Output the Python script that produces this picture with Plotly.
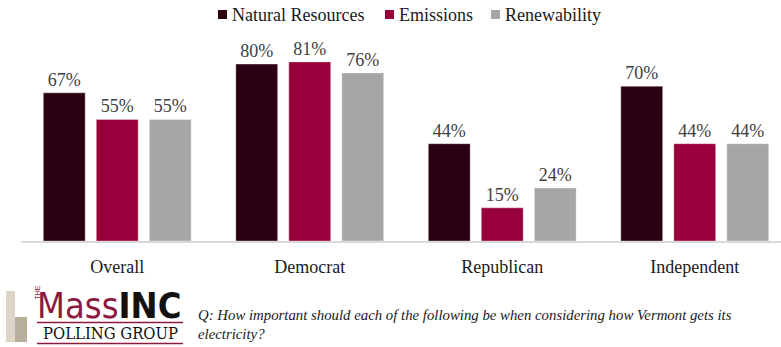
import plotly.graph_objects as go

categories = ["Overall", "Democrat", "Republican", "Independent"]
series_names = ["Natural Resources", "Emissions", "Renewability"]
natural_resources = [67, 80, 44, 70]
emissions = [55, 81, 15, 44]
renewability = [55, 76, 24, 44]
colors = ["#2c0012", "#99003b", "#a6a6a6"]

W, H = 781, 347
SERIF = "Liberation Serif"
xpos = list(range(len(categories)))
values = [natural_resources, emissions, renewability]

fig = go.Figure()
for name, vals, col in zip(series_names, values, colors):
    fig.add_trace(go.Bar(
        x=xpos, y=vals, name=name,
        marker=dict(color=col, line=dict(color="rgba(255,255,255,0.35)", width=1)),
        text=[f"{v}%" for v in vals], textposition="outside",
        textfont=dict(family=SERIF, size=18, color="#404040"),
        cliponaxis=False,
    ))

left_px, right_px, top_px, base_px = 21, 781, 42, 241
cat_w = 192.5
x_lo = -0.5
x_hi = -0.5 + (right_px - left_px) / cat_w

fig.update_layout(
    width=W, height=H,
    margin=dict(l=left_px, r=W - right_px, t=top_px, b=H - base_px, autoexpand=False),
    paper_bgcolor="white", plot_bgcolor="white",
    barmode="group", bargap=0.174, bargroupgap=0.21,
    showlegend=False,
    xaxis=dict(range=[x_lo, x_hi], tickvals=xpos, ticktext=categories,
               showgrid=False, zeroline=False, showline=True,
               linecolor="#d9d9d9", linewidth=2, ticks="", ticklen=0,
               ticklabelstandoff=8,
               tickfont=dict(family=SERIF, size=18, color="#1a1a1a")),
    yaxis=dict(range=[0, 90], visible=False, showgrid=False, zeroline=False),
)

def px_x(x):
    return (x - left_px) / (right_px - left_px)

def px_y(y):
    return (base_px - y) / (base_px - top_px)

# Legend (manual)
legend_sq_x = [218, 385, 491]
for name, col, sx in zip(series_names, colors, legend_sq_x):
    fig.add_shape(type="rect", xref="paper", yref="paper",
                  x0=px_x(sx), x1=px_x(sx + 9), y0=px_y(19), y1=px_y(10),
                  fillcolor=col, line=dict(width=0))
    fig.add_annotation(xref="paper", yref="paper", x=px_x(sx + 12), y=px_y(14.5),
                       xanchor="left", yanchor="middle", text=name, showarrow=False,
                       font=dict(family=SERIF, size=18, color="#1a1a1a"))

# Logo
fig.add_shape(type="rect", xref="paper", yref="paper",
              x0=px_x(6), x1=px_x(15), y0=px_y(342), y1=px_y(291),
              fillcolor="#ddd5c8", line=dict(width=0), layer="above")
fig.add_shape(type="rect", xref="paper", yref="paper",
              x0=px_x(15), x1=px_x(27), y0=px_y(342), y1=px_y(317),
              fillcolor="#b8ae9c", line=dict(width=0), layer="above")
for yy in (322.5, 343.5):
    fig.add_shape(type="line", xref="paper", yref="paper",
                  x0=px_x(37), x1=px_x(183), y0=px_y(yy), y1=px_y(yy),
                  line=dict(color="#8b1a3f", width=1.5))

fig.add_annotation(xref="paper", yref="paper", x=px_x(31), y=px_y(302),
                   text="THE", showarrow=False, textangle=-90,
                   font=dict(family="Liberation Sans", size=7, color="#8b1a3f"))
fig.add_annotation(xref="paper", yref="paper", x=px_x(35), y=px_y(305), xanchor="left", yanchor="middle",
                   text="<span style='color:#8b1a3f'>Mass</span><b style='color:#111'>INC</b>",
                   showarrow=False,
                   font=dict(family="DejaVu Sans Condensed", size=36, color="#8b1a3f"))
fig.add_annotation(xref="paper", yref="paper", x=px_x(110), y=px_y(333), xanchor="center", yanchor="middle",
                   text="POLLING GROUP", showarrow=False,
                   font=dict(family="DejaVu Serif Condensed", size=16.5, color="#111"))
fig.add_annotation(xref="paper", yref="paper", x=px_x(196), y=px_y(324), xanchor="left", yanchor="middle",
                   text="<i>Q: How important should each of the following be when considering how Vermont gets its<br>electricity?</i>",
                   showarrow=False, align="left",
                   font=dict(family=SERIF, size=14.8, color="#1a1a1a"))

fig.write_html("out.html")
